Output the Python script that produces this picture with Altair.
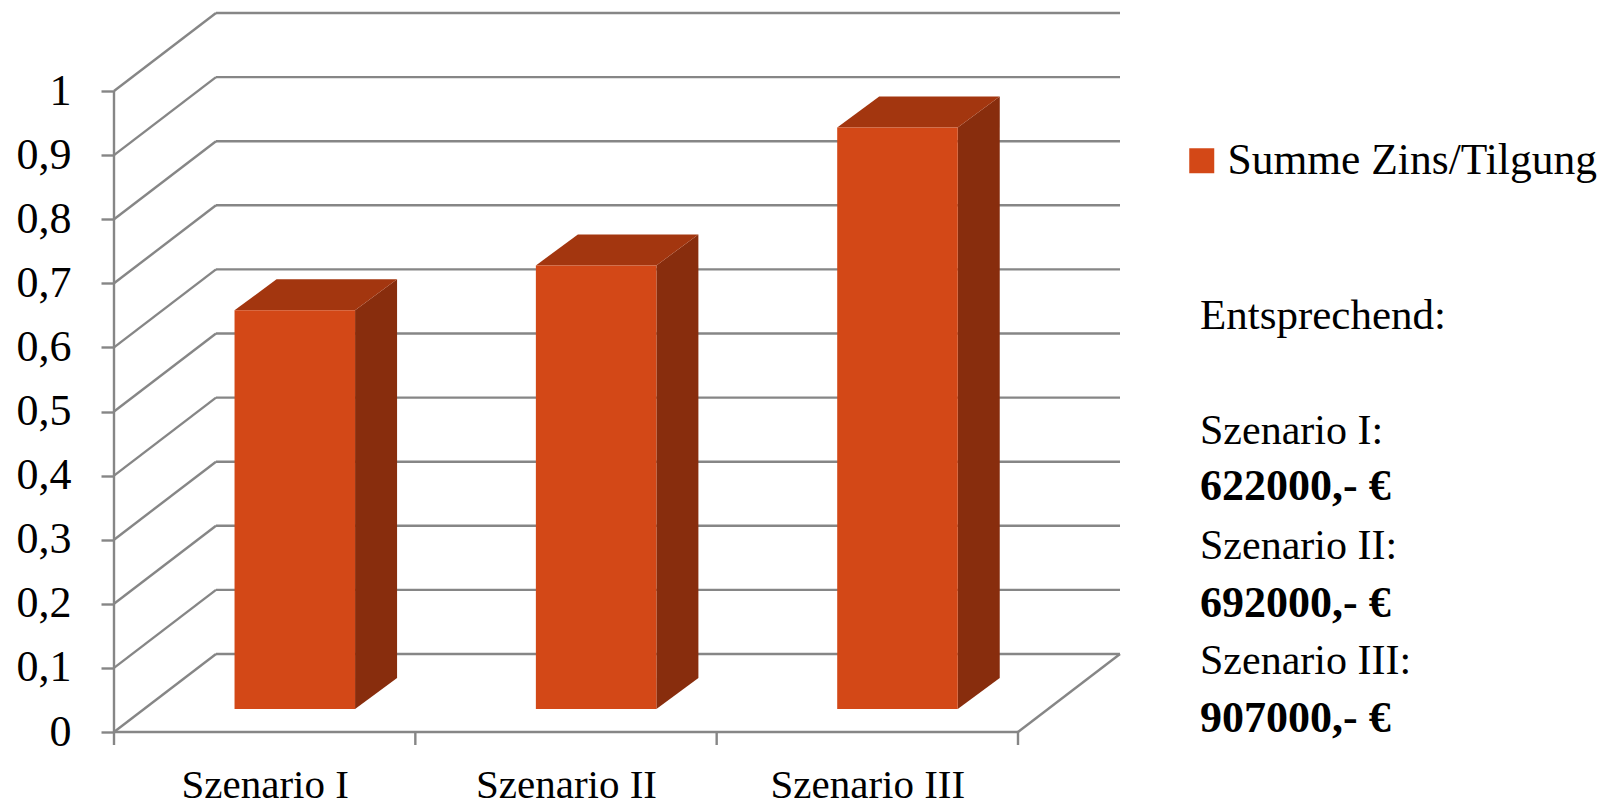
import altair as alt
import pandas as pd

categories = ["Szenario I", "Szenario II", "Szenario III"]
series_name = "Summe Zins/Tilgung"
values = [0.622, 0.692, 0.907]
y_ticks = [0, 0.1, 0.2, 0.3, 0.4, 0.5, 0.6, 0.7, 0.8, 0.9, 1]
x_ticks = [0, 1, 2, 3]
side_lines = [
    ("Entsprechend:", "normal", 43, 329),
    ("Szenario I:", "normal", 42, 444),
    ("622000,- €", "bold", 44, 500),
    ("Szenario II:", "normal", 42, 559),
    ("692000,- €", "bold", 44, 617),
    ("Szenario III:", "normal", 42, 674),
    ("907000,- €", "bold", 44, 732),
]

FONT = "Liberation Serif"
GRID = "#868686"
FRONT, TOP, SIDE = "#D34817", "#A3360F", "#882D0D"
VIEW_L, VIEW_T = 106, 5          # padding
PX_X, PX_Y = 904 / 3, 641.0      # pixels per category / per unit value
DX, DY = 102 / PX_X, 78 / PX_Y   # depth of the chart floor
BX, BY = 42 / PX_X, 31 / PX_Y    # depth of a bar
BAR_START, BAR_W = 0.4, 0.4
BASE = 23 / PX_Y

xs = alt.Scale(domain=[0, 3 + DX], nice=False, zero=False)
ys = alt.Scale(domain=[0, 1 + DY], nice=False, zero=False)
X = lambda f, **k: alt.X(f, type="quantitative", scale=xs, **k)
Y = lambda f, **k: alt.Y(f, type="quantitative", scale=ys, **k)

# Wall and floor lines
rows = []
for t in y_ticks:
    rows.append(dict(x=DX, x2=3 + DX, y=t + DY, y2=t + DY))
    rows.append(dict(x=0, x2=DX, y=t, y2=t + DY))
rows.append(dict(x=0, x2=3, y=0, y2=0))
rows.append(dict(x=3, x2=3 + DX, y=0, y2=DY))
rows.append(dict(x=0, x2=0, y=0, y2=1))
for t in x_ticks:
    rows.append(dict(x=t, x2=t, y=0, y2=-13 / PX_Y))
lines = (
    alt.Chart(pd.DataFrame(rows))
    .mark_rule(color=GRID, strokeWidth=2.4)
    .encode(x=X("x", axis=None), x2="x2", y=Y("y", axis=None), y2="y2")
)

# Invisible layer carrying the axes
axes_df = pd.DataFrame({"x": [0.5, 1.5, 2.5], "y": [0, 0, 0]})
cat_expr = "[" + ",".join(f"'{c}'" for c in categories) + "][floor(datum.value)]"
axes = (
    alt.Chart(axes_df)
    .mark_point(opacity=0)
    .encode(
        x=X(
            "x",
            title=None,
            axis=alt.Axis(
                values=[0.5, 1.5, 2.5], labelExpr=cat_expr, tickSize=0, domain=False, grid=False,
                labelFont=FONT, labelFontSize=41, labelColor="#000000", labelPadding=65,
                labelBaseline="alphabetic", labelOverlap=False, labelFlush=False, labelAlign="center",
                labelLimit=400,
            ),
        ),
        y=Y(
            "y",
            title=None,
            axis=alt.Axis(
                values=y_ticks, labelExpr="replace(toString(datum.value), '.', ',')",
                tickSize=13, tickColor=GRID, tickWidth=2.4, domain=False, grid=False,
                labelFont=FONT, labelFontSize=44, labelColor="#000000", labelPadding=30,
                labelOverlap=False, labelFlush=False,
            ),
        ),
    )
)

# Bars
front_rows, top_rows, side_rows = [], [], []
for i, (c, v) in enumerate(zip(categories, values)):
    l, r = i + BAR_START, i + BAR_START + BAR_W
    t = BASE + v
    front_rows.append(dict(category=c, series=series_name, x=l, x2=r, y=BASE, y2=t))
    top_rows.append(dict(category=c, y=t, x=l, x2=r))
    top_rows.append(dict(category=c, y=t + BY, x=l + BX, x2=r + BX))
    side_rows.append(dict(category=c, x=r, y=BASE, y2=t))
    side_rows.append(dict(category=c, x=r + BX, y=BASE + BY, y2=t + BY))

front = (
    alt.Chart(pd.DataFrame(front_rows))
    .mark_rect()
    .encode(
        x=X("x", axis=None), x2="x2", y=Y("y", axis=None), y2="y2",
        color=alt.Color(
            "series:N",
            scale=alt.Scale(domain=[series_name], range=[FRONT]),
            legend=alt.Legend(
                orient="none", legendX=1066, legendY=126, title=None, padding=0,
                symbolType="square", symbolSize=625, symbolStrokeWidth=0, symbolOpacity=1,
                labelFont=FONT, labelFontSize=43.5, labelColor="#000000", labelOffset=4,
                labelLimit=600,
            ),
        ),
    )
)
top = (
    alt.Chart(pd.DataFrame(top_rows))
    .mark_area(orient="horizontal", color=TOP)
    .encode(x=X("x", axis=None), x2="x2", y=Y("y", axis=None), detail="category:N")
)
side = (
    alt.Chart(pd.DataFrame(side_rows))
    .mark_area(orient="vertical", color=SIDE)
    .encode(x=X("x", axis=None), y=Y("y", axis=None), y2="y2", detail="category:N")
)

# Text beside the plot
texts = []
for text, weight, size, base in side_lines:
    texts.append(
        alt.Chart(pd.DataFrame({"t": [text]}))
        .mark_text(
            font=FONT, fontSize=size, fontWeight=weight,
            align="left", baseline="alphabetic", color="#000000",
        )
        .encode(
            text="t:N",
            x=alt.value(1200 - 8 - VIEW_L),
            y=alt.value(base - 8 - VIEW_T),
        )
    )

chart = (
    alt.layer(axes, lines, side, top, front, *texts)
    .resolve_axis(x="independent", y="independent")
    .properties(
        width=1006, height=719, background="white",
        autosize=alt.AutoSizeParams(type="none"),
        padding={"left": VIEW_L, "top": VIEW_T, "right": 484, "bottom": 69},
    )
    .configure_view(stroke=None)
)
chart.save("out.html", embed_options={"renderer": "svg", "actions": False})
